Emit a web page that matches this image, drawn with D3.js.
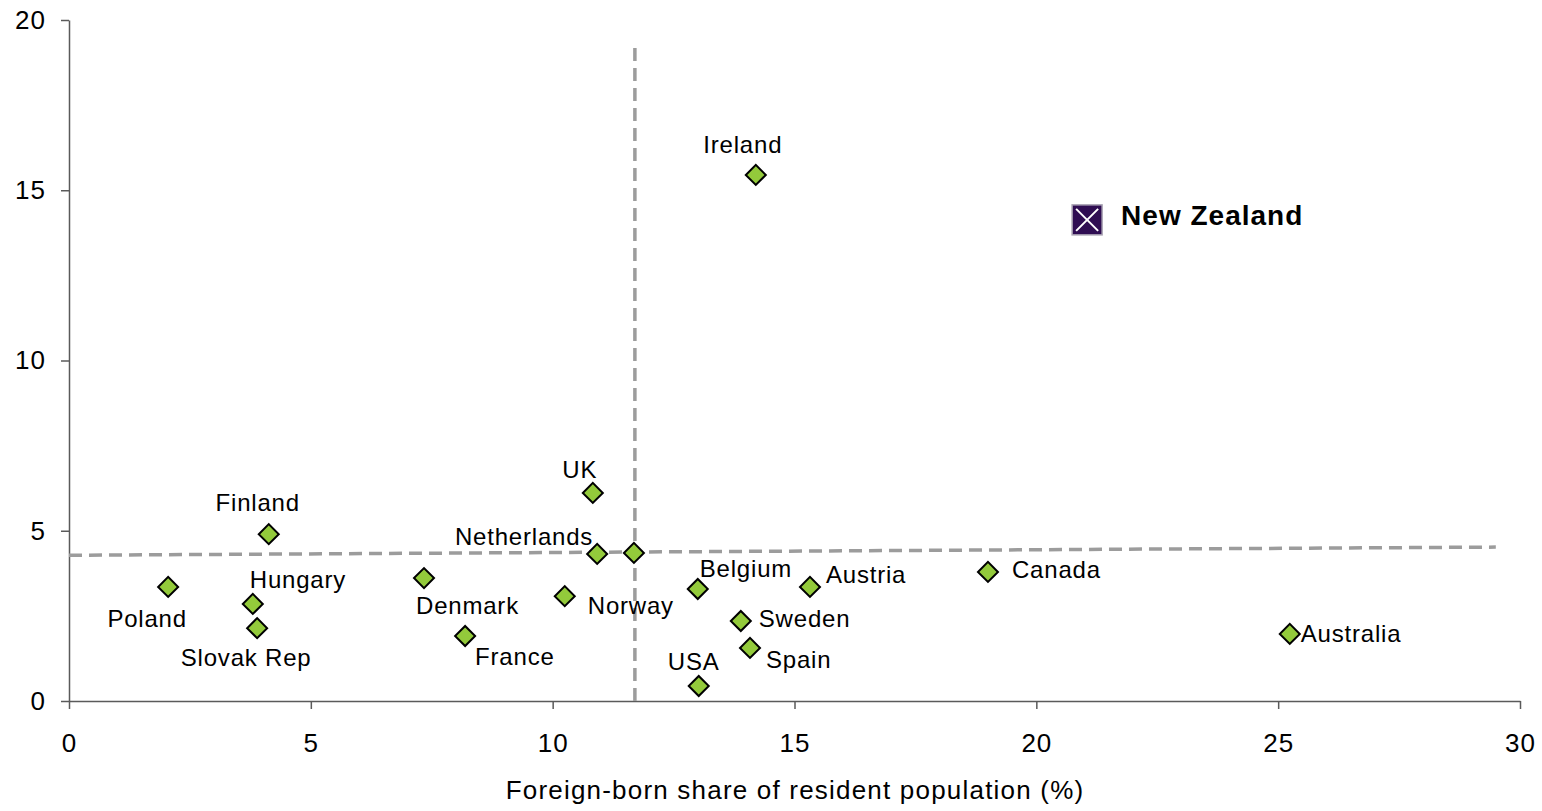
<!DOCTYPE html>
<html>
<head>
<meta charset="utf-8">
<script src="https://cdn.jsdelivr.net/npm/d3@7/dist/d3.min.js"></script>
<style>
  html, body { margin: 0; padding: 0; background: #fff; }
  svg { display: block; font-family: "Liberation Sans", Arial, sans-serif; }
</style>
</head>
<body>
<svg id="chart" width="1542" height="811"></svg>
<script>
// Foreign-born share of resident population (x, %) against the second indicator (y)
const countries = ["Ireland", "UK", "Finland", "Netherlands", "Poland", "Hungary", "Slovak Rep",
  "Denmark", "France", "Norway", "Belgium", "USA", "Sweden", "Spain", "Austria", "Canada", "Australia"];
const foreignBorn = [14.2, 10.83, 4.13, 10.92, 2.05, 3.8, 3.89, 7.34, 8.19, 10.25, 13.0, 13.02, 13.89, 14.08, 15.32, 19.0, 25.24];
const yValues = [15.45, 6.11, 4.9, 4.32, 3.35, 2.85, 2.14, 3.61, 1.91, 3.08, 3.29, 0.44, 2.35, 1.56, 3.35, 3.79, 1.97];

// Highlighted country
const highlightName = ["New Zealand"];
const highlightX = [21.05];
const highlightY = [14.13];

// Average point (unlabelled) where the two reference lines cross
const averageX = [11.68];
const averageY = [4.35];

// Reference lines
const verticalRefX = [11.7];
const verticalRefTop = [19.27];
const horizontalRefX = [0, 29.5];
const horizontalRefY = [4.28, 4.52];

const xTicks = [0, 5, 10, 15, 20, 25, 30];
const yTicks = [0, 5, 10, 15, 20];
const xTitle = "Foreign-born share of resident population (%)";

// Label placement around each marker: [dx, dy, anchor]
const labelPlacement = {
  "Ireland": [-13, -22, "middle"],
  "UK": [-13, -15, "middle"],
  "Finland": [-11, -23, "middle"],
  "Netherlands": [-4, -9, "end"],
  "Poland": [-21, 40, "middle"],
  "Hungary": [-3, -16, "start"],
  "Slovak Rep": [-11, 38, "middle"],
  "Denmark": [-8, 36, "start"],
  "France": [10, 29, "start"],
  "Norway": [23, 18, "start"],
  "Belgium": [2, -12, "start"],
  "USA": [-5, -16, "middle"],
  "Sweden": [18, 6, "start"],
  "Spain": [16, 20, "start"],
  "Austria": [16, -4, "start"],
  "Canada": [24, 6, "start"],
  "Australia": [11, 8, "start"]
};

const svg = d3.select("#chart");
const plotLeft = 69, plotRight = 1520, plotTop = 20, plotBottom = 701;

const x = d3.scaleLinear().domain([0, 30]).range([plotLeft, plotRight]);
const y = d3.scaleLinear().domain([0, 20]).range([plotBottom, plotTop]);

const axisColor = "#5a5a5a";

// Axes
const gx = svg.append("g")
  .attr("transform", `translate(0,${plotBottom})`)
  .call(d3.axisBottom(x).tickValues(xTicks).tickSize(8).tickSizeOuter(0).tickPadding(25).tickFormat(d3.format("d")));
const gy = svg.append("g")
  .attr("transform", `translate(${plotLeft},0)`)
  .call(d3.axisLeft(y).tickValues(yTicks).tickSize(8).tickSizeOuter(0).tickPadding(15).tickFormat(d3.format("d")));

[gx, gy].forEach(g => {
  g.select(".domain").attr("stroke", axisColor).attr("stroke-width", 1.5);
  g.selectAll(".tick line").attr("stroke", axisColor).attr("stroke-width", 1.5);
  g.selectAll(".tick text")
    .attr("fill", "#000")
    .attr("font-size", 26)
    .attr("font-family", "'Liberation Sans', Arial, sans-serif")
    .attr("letter-spacing", 1);
});

// Dashed reference lines
const refStyle = sel => sel
  .attr("stroke", "#9c9c9c")
  .attr("stroke-width", 3.5)
  .attr("stroke-dasharray", "13,7")
  .attr("fill", "none");

svg.append("line")
  .attr("x1", x(horizontalRefX[0])).attr("y1", y(horizontalRefY[0]))
  .attr("x2", x(horizontalRefX[1])).attr("y2", y(horizontalRefY[1]))
  .call(refStyle);

svg.append("line")
  .attr("x1", x(verticalRefX[0])).attr("y1", y(0))
  .attr("x2", x(verticalRefX[0])).attr("y2", y(verticalRefTop[0]))
  .call(refStyle);

// Country markers
const diamond = d3.symbol().type(d3.symbolSquare).size(200);
const rows = countries.map((c, i) => ({ name: c, x: foreignBorn[i], y: yValues[i] }));
rows.push({ name: "", x: averageX[0], y: averageY[0] });

svg.append("g").selectAll("path")
  .data(rows)
  .join("path")
  .attr("d", diamond)
  .attr("transform", d => `translate(${x(d.x)},${y(d.y)}) rotate(45)`)
  .attr("fill", "#93ca3b")
  .attr("stroke", "#000")
  .attr("stroke-width", 2);

// Country labels
svg.append("g").selectAll("text")
  .data(rows.filter(d => d.name))
  .join("text")
  .attr("x", d => x(d.x) + labelPlacement[d.name][0])
  .attr("y", d => y(d.y) + labelPlacement[d.name][1])
  .attr("text-anchor", d => labelPlacement[d.name][2])
  .attr("font-size", 24)
  .attr("letter-spacing", 0.8)
  .attr("fill", "#000")
  .text(d => d.name);

// Highlighted marker: dark square with a white cross
const hx = x(highlightX[0]), hy = y(highlightY[0]), hs = 15;
const hg = svg.append("g");
hg.append("rect")
  .attr("x", hx - hs).attr("y", hy - hs)
  .attr("width", hs * 2).attr("height", hs * 2)
  .attr("fill", "#2f0d52")
  .attr("stroke", "#a9a3b3")
  .attr("stroke-width", 1.5);
hg.append("path")
  .attr("d", `M${hx - hs + 4},${hy - hs + 4}L${hx + hs - 4},${hy + hs - 4}M${hx + hs - 4},${hy - hs + 4}L${hx - hs + 4},${hy + hs - 4}`)
  .attr("stroke", "#fff")
  .attr("stroke-width", 2);
svg.append("text")
  .attr("x", hx + 34)
  .attr("y", hy + 5)
  .attr("font-size", 28)
  .attr("font-weight", "bold")
  .attr("letter-spacing", 1)
  .attr("fill", "#000")
  .text(highlightName[0]);

// Axis title
svg.append("text")
  .attr("x", 795)
  .attr("y", 799)
  .attr("text-anchor", "middle")
  .attr("font-size", 26)
  .attr("letter-spacing", 1.2)
  .attr("fill", "#000")
  .text(xTitle);
</script>
</body>
</html>
